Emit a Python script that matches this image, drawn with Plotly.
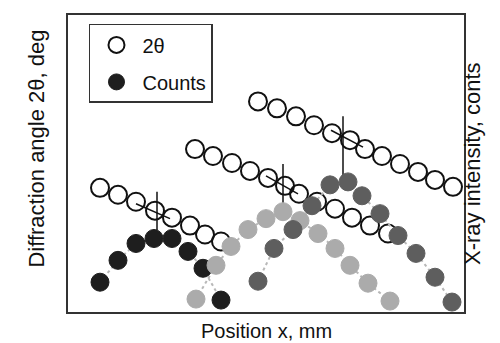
import plotly.graph_objects as go

# 2theta series (arbitrary units; axes carry no ticks)
theta_a_x = [32, 50, 68, 87, 104, 122, 137, 153]
theta_a_y = [125, 118, 111, 102, 95, 87, 78, 71]
theta_b_x = [127, 145, 164, 182, 200, 217, 231, 249, 267, 284, 302, 320]
theta_b_y = [164, 157, 150, 142, 135, 127, 119, 111, 104, 95, 87, 79]
theta_c_x = [190, 209, 228, 246, 264, 282, 297, 314, 332, 350, 367, 385]
theta_c_y = [212, 205, 197, 188, 180, 173, 164, 157, 149, 141, 133, 126]

# Counts series
counts_a_x = [32, 50, 68, 86, 104, 120, 135, 153]
counts_a_y = [30, 52, 69, 74, 74, 61, 44, 12]
counts_b_x = [128, 148, 163, 180, 198, 215, 232, 250, 267, 282, 300, 322]
counts_b_y = [13, 47, 66, 83, 94, 101, 92, 79, 64, 47, 29, 11]
counts_c_x = [190, 206, 225, 244, 262, 280, 294, 312, 330, 348, 367, 384]
counts_c_y = [31, 64, 83, 107, 128, 131, 117, 99, 77, 59, 35, 10]

# Peak markers
peak_x = [89, 215, 275]
peak_top = [121, 149, 197]
peak_bottom = [82, 104, 126]
fit_x0 = [68, 198, 263]
fit_y0 = [109, 137, 183]
fit_x1 = [102, 230, 295]
fit_y1 = [94, 119, 166]

fig = go.Figure()

count_colors = ["#1e1e1e", "#ababab", "#5e5e5e"]
counts = [(counts_a_x, counts_a_y), (counts_b_x, counts_b_y), (counts_c_x, counts_c_y)]
thetas = [(theta_a_x, theta_a_y), (theta_b_x, theta_b_y), (theta_c_x, theta_c_y)]

for cx, cy in counts:
    fig.add_trace(go.Scatter(x=cx, y=cy, mode="lines", yaxis="y2",
                             line=dict(color="#b8b8b8", width=2, dash="dot"),
                             showlegend=False, hoverinfo="skip"))

for i in range(len(peak_x)):
    fig.add_trace(go.Scatter(x=[peak_x[i], peak_x[i]], y=[peak_bottom[i], peak_top[i]],
                             mode="lines", line=dict(color="#111", width=1.5),
                             showlegend=False, hoverinfo="skip"))
    fig.add_trace(go.Scatter(x=[fit_x0[i], fit_x1[i]], y=[fit_y0[i], fit_y1[i]],
                             mode="lines", line=dict(color="#111", width=1.5),
                             showlegend=False, hoverinfo="skip"))

for i, (tx, ty) in enumerate(thetas):
    fig.add_trace(go.Scatter(x=tx, y=ty, mode="markers", name="2θ",
                             legendgroup="theta",
                             marker=dict(symbol="circle-open", size=18, color="#111",
                                         line=dict(width=2, color="#111")),
                             showlegend=(i == 0), legendrank=1))

for i, (cx, cy) in enumerate(counts):
    fig.add_trace(go.Scatter(x=cx, y=cy, mode="markers", name="Counts", yaxis="y2",
                             legendgroup="counts",
                             marker=dict(symbol="circle", size=18, color=count_colors[i],
                                         line=dict(width=1, color=count_colors[i])),
                             showlegend=(i == 0), legendrank=2))

axis_common = dict(showticklabels=False, ticks="", showgrid=False, zeroline=False)
fig.update_layout(
    width=500, height=343,
    margin=dict(l=60, r=44, t=5, b=39),
    plot_bgcolor="white", paper_bgcolor="white",
    font=dict(family="Liberation Sans, Arial, sans-serif", size=16, color="#111"),
    xaxis=dict(range=[0, 396], showline=True, mirror=True, linecolor="#333", linewidth=1.5, **axis_common),
    yaxis=dict(range=[0, 299], showline=True, mirror=True, linecolor="#333", linewidth=1.5, **axis_common),
    yaxis2=dict(range=[0, 299], overlaying="y", side="right", showline=False, **axis_common),
    legend=dict(x=0.053, y=0.97, xanchor="left", yanchor="top",
                bgcolor="white", bordercolor="#333", borderwidth=1.5,
                font=dict(size=20), itemsizing="trace", tracegroupgap=8,
                itemwidth=42),
    showlegend=True,
    annotations=[
        dict(text="Diffraction angle 2θ, deg", xref="paper", yref="paper",
             x=-0.115, y=0.55, textangle=-90, showarrow=False, font=dict(size=22)),
        dict(text="X-ray intensity, conts", xref="paper", yref="paper",
             x=1.058, y=0.5, textangle=-90, showarrow=False, font=dict(size=22)),
        dict(text="Position x, mm", xref="paper", yref="paper",
             x=0.5, y=-0.064, yanchor="middle", showarrow=False, font=dict(size=20)),
    ],
)

fig.write_html("out.html")
